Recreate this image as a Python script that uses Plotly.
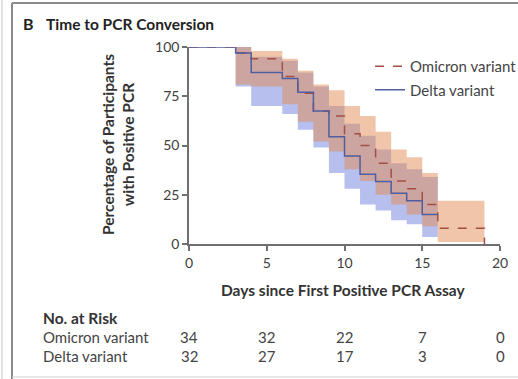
import plotly.graph_objects as go

# ---- data ----
times = [0, 3, 4, 6, 7, 8, 9, 10, 11, 12, 13, 14, 15, 16, 19]
omicron_surv = [100, 97, 94, 85, 76.5, 67.5, 65, 56, 50, 41, 32, 28, 20, 8, 0]
omicron_upper = [100, 100, 98, 94, 88, 81, 78, 70, 65, 57, 48, 44, 36, 22, 22]
omicron_lower = [100, 81, 80, 71, 62, 52, 47, 38, 32, 25, 20, 15, 9, 1, 1]

delta_times = [0, 3, 4, 6, 7, 8, 9, 10, 11, 12, 13, 14, 15, 16]
delta_surv = [100, 97, 87, 84, 77, 67.5, 54.5, 44.7, 35.4, 31.7, 25.8, 22, 15, 15]
delta_upper = [100, 100, 95, 93, 87, 80, 70, 61, 55, 48, 41, 38, 34, 34]
delta_lower = [100, 80, 70, 66, 58, 49, 36, 28, 20, 17, 12, 10, 3.5, 3.5]

risk_days = [0, 5, 10, 15, 20]
risk_omicron = [34, 32, 22, 7, 0]
risk_delta = [32, 27, 17, 3, 0]
x_ticks = [0, 5, 10, 15, 20]
y_ticks = [0, 25, 50, 75, 100]

FONT = "Lato"
W, H = 518, 379
L, R, T, B = 189, 18, 47, 135
PW, PH = W - L - R, H - T - B


def px(x):
    return (x - L) / PW


def py(y):
    return (H - B - y) / PH


def band(t, lo, hi):
    xs, ys = [], []
    for i in range(len(t) - 1):
        xs += [t[i], t[i + 1]]
        ys += [hi[i], hi[i]]
    xr, yr = [], []
    for i in range(len(t) - 1):
        xr += [t[i], t[i + 1]]
        yr += [lo[i], lo[i]]
    return xs + xr[::-1], ys + yr[::-1]


fig = go.Figure()

bx, by = band(delta_times, delta_lower, delta_upper)
fig.add_trace(go.Scatter(x=bx, y=by, fill="toself", mode="none",
                         fillcolor="rgba(95,115,215,0.46)", showlegend=False,
                         hoverinfo="skip"))
bx, by = band(times, omicron_lower, omicron_upper)
fig.add_trace(go.Scatter(x=bx, y=by, fill="toself", mode="none",
                         fillcolor="rgba(225,140,85,0.50)", showlegend=False,
                         hoverinfo="skip"))

fig.add_trace(go.Scatter(x=times, y=omicron_surv, mode="lines", line_shape="hv",
                         name="Omicron variant", legendgroup="o",
                         line=dict(color="#a44f43", width=1.5, dash="dash")))
fig.add_trace(go.Scatter(x=delta_times, y=delta_surv, mode="lines", line_shape="hv",
                         name="Delta variant", legendgroup="d",
                         line=dict(color="#4f5e9e", width=1.5)))

axis_common = dict(showgrid=False, zeroline=False, showline=True,
                   linecolor="#707070", linewidth=1.5, ticks="outside",
                   ticklen=5, tickwidth=1.5, tickcolor="#707070",
                   tickfont=dict(family=FONT, size=14, color="#404040"))
fig.update_xaxes(range=[0, 20], tickvals=x_ticks, **axis_common)
fig.update_yaxes(range=[0, 100], tickvals=y_ticks, **axis_common)

BOLD = 15.5
REG = 15
ann = []
ann.append(dict(text="<b>B</b>", x=px(21), y=py(24), xanchor="left", yanchor="middle",
                font=dict(family=FONT, size=16, color="#222")))
ann.append(dict(text="<b>Time to PCR Conversion</b>", x=px(44), y=py(24),
                xanchor="left", yanchor="middle",
                font=dict(family=FONT, size=BOLD, color="#222")))
ann.append(dict(text="<b>Percentage of Participants<br>with Positive PCR</b>",
                x=px(118), y=py(145), textangle=-90, xanchor="center",
                yanchor="middle",
                font=dict(family=FONT, size=BOLD, color="#333")))
ann.append(dict(text="<b>Days since First Positive PCR Assay</b>",
                x=px(343), y=py(290), xanchor="center", yanchor="middle",
                font=dict(family=FONT, size=BOLD, color="#333")))
ann.append(dict(text="<b>No. at Risk</b>", x=px(41), y=py(318), xanchor="left",
                yanchor="middle", font=dict(family=FONT, size=BOLD, color="#333")))
ann.append(dict(text="Omicron variant", x=px(41), y=py(337), xanchor="left",
                yanchor="middle", font=dict(family=FONT, size=REG, color="#444")))
ann.append(dict(text="Delta variant", x=px(41), y=py(356), xanchor="left",
                yanchor="middle", font=dict(family=FONT, size=REG, color="#444")))
for d, o, dl in zip(risk_days, risk_omicron, risk_delta):
    ann.append(dict(text=str(o), x=d, xref="x", y=py(337), xanchor="center",
                    yanchor="middle", font=dict(family=FONT, size=REG, color="#444")))
    ann.append(dict(text=str(dl), x=d, xref="x", y=py(356), xanchor="center",
                    yanchor="middle", font=dict(family=FONT, size=REG, color="#444")))
for a in ann:
    a.setdefault("xref", "paper")
    a["yref"] = "paper"
    a["showarrow"] = False

shapes = [
    dict(type="line", xref="paper", yref="paper", x0=px(12), x1=px(12),
         y0=py(3), y1=py(379), line=dict(color="#8a8a8a", width=2)),
    dict(type="line", xref="paper", yref="paper", x0=px(12), x1=px(518),
         y0=py(3), y1=py(3), line=dict(color="#8a8a8a", width=2)),
    dict(type="line", xref="paper", yref="paper", x0=px(2), x1=px(2),
         y0=py(0), y1=py(379), line=dict(color="#c8c8c8", width=1)),
    dict(type="line", xref="paper", yref="paper", x0=px(12), x1=px(518),
         y0=py(377), y1=py(377), line=dict(color="#d0d0d0", width=1)),
]

fig.update_layout(
    width=W, height=H, margin=dict(l=L, r=R, t=T, b=B, autoexpand=False),
    paper_bgcolor="white", plot_bgcolor="white",
    annotations=ann, shapes=shapes,
    legend=dict(x=px(370), y=py(50), xanchor="left", yanchor="top",
                bgcolor="rgba(0,0,0,0)", font=dict(family=FONT, size=REG, color="#444"),
                tracegroupgap=1, itemwidth=30, traceorder="grouped"),
    showlegend=True,
)

fig.write_html("out.html")
